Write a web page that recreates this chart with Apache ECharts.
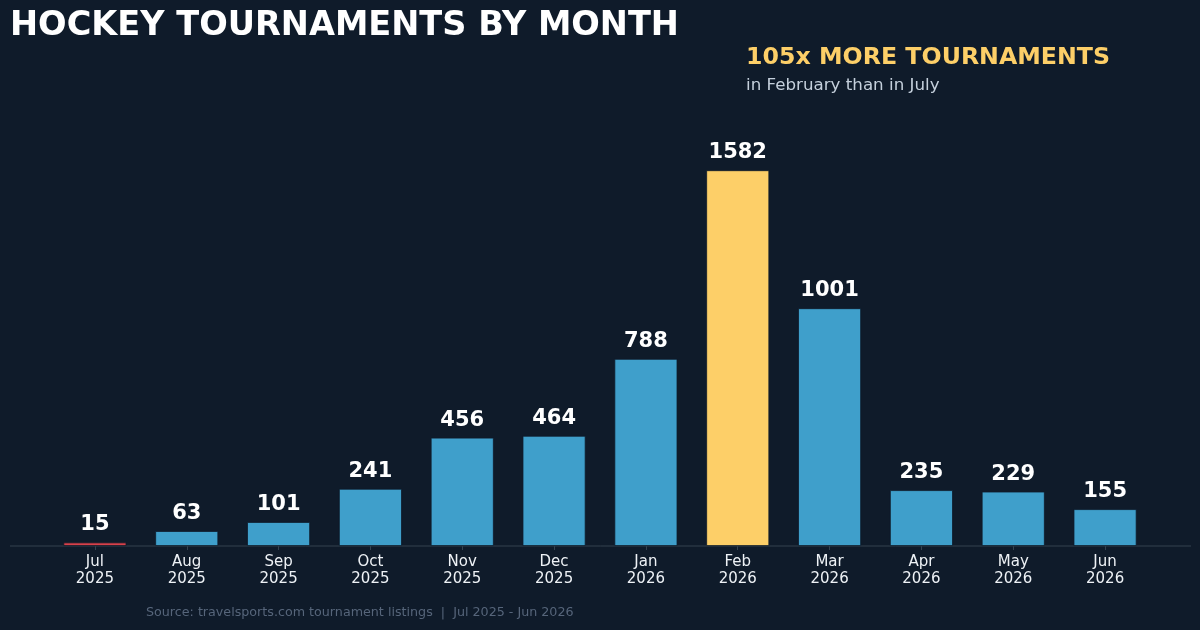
<!DOCTYPE html>
<html style="height: 100%">
<head>
    <meta charset="utf-8">
</head>
<body style="height: 100%; margin: 0; background: #0f1b2a">
    <div id="container" style="width: 1200px; height: 630px"></div>
    <script src="https://cdn.jsdelivr.net/npm/echarts@6/dist/echarts.min.js"></script>
    <script type="text/javascript">
        var months = ['Jul', 'Aug', 'Sep', 'Oct', 'Nov', 'Dec', 'Jan', 'Feb', 'Mar', 'Apr', 'May', 'Jun'];
        var years = ['2025', '2025', '2025', '2025', '2025', '2025', '2026', '2026', '2026', '2026', '2026', '2026'];
        var counts = [15, 63, 101, 241, 456, 464, 788, 1582, 1001, 235, 229, 155];

        var blue = '#3f9fcb', gold = '#fdcf68', red = '#d8414a';
        var font = '"DejaVu Sans", sans-serif';
        var maxIdx = counts.indexOf(Math.max.apply(null, counts));
        var minIdx = counts.indexOf(Math.min.apply(null, counts));

        var cats = months.map(function (m, i) { return m + '\n' + years[i] });
        var bars = counts.map(function (v, i) {
            var c = i === maxIdx ? gold : (i === minIdx ? red : blue);
            return { value: v, itemStyle: { color: c } };
        });

        var chart = echarts.init(document.getElementById('container'));
        var option = {
            backgroundColor: '#0f1b2a',
            animation: false,
            textStyle: { fontFamily: font },
            grid: { left: 49, right: 49, top: 114, bottom: 84 },
            title: [{
                text: 'HOCKEY TOURNAMENTS BY MONTH',
                left: 10, top: 9, padding: 0,
                textStyle: { color: '#ffffff', fontSize: 33.6, fontWeight: 'bold', fontFamily: font }
            }, {
                text: '105x MORE TOURNAMENTS',
                left: 746, top: 46, padding: 0,
                textStyle: { color: gold, fontSize: 23.7, fontWeight: 'bold', fontFamily: font }
            }, {
                text: 'in February than in July',
                left: 746, top: 77, padding: 0,
                textStyle: { color: '#c5d0dc', fontSize: 16.7, fontWeight: 'normal', fontFamily: font }
            }, {
                text: 'Source: travelsports.com tournament listings  |  Jul 2025 - Jun 2026',
                left: 146, top: 606, padding: 0,
                textStyle: { color: '#56657a', fontSize: 12.7, fontWeight: 'normal', fontFamily: font }
            }],
            graphic: [{
                type: 'line',
                shape: { x1: 10, y1: 546, x2: 1191, y2: 546 },
                style: { stroke: '#34424f', lineWidth: 1 },
                z: 0
            }],
            xAxis: {
                type: 'category',
                data: cats,
                axisLine: { show: false },
                axisTick: { show: true, alignWithLabel: true, length: 4, lineStyle: { color: '#34424f' } },
                axisLabel: { color: '#eef2f6', fontSize: 15, lineHeight: 17, margin: 8, fontFamily: font }
            },
            yAxis: {
                type: 'value',
                min: 0,
                max: 1819,
                show: false,
                splitLine: { show: false }
            },
            series: [{
                type: 'bar',
                data: bars,
                barWidth: 63,
                itemStyle: { borderColor: '#0f1b2a', borderWidth: 0.8 },
                label: {
                    show: true,
                    position: 'top',
                    distance: 7,
                    color: '#ffffff',
                    fontSize: 21,
                    fontWeight: 'bold',
                    fontFamily: font
                }
            }]
        };
        chart.setOption(option);
    </script>
</body>
</html>
